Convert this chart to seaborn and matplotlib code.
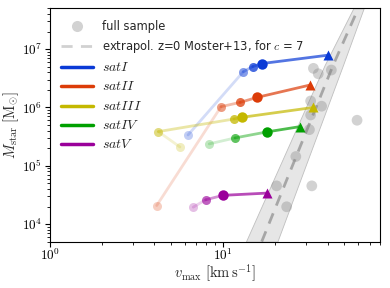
import numpy as np
import pandas as pd
import matplotlib
matplotlib.use("Agg")
import matplotlib.pyplot as plt
import matplotlib.ticker as mticker
import seaborn as sns

# ------------------------------------------
# data
# ------------------------------------------
# full sample (grey dots)
full_vmax = [33.1, 35.3, 42.0, 31.9, 36.9, 31.9, 31.4, 59.1, 26.2, 20.3, 32.4, 23.2]
full_mstar = [4.68e6, 3.78e6, 4.38e6, 1.29e6, 1.05e6, 7.43e5, 4.16e5, 6.03e5,
              1.44e5, 4.52e4, 4.52e4, 1.98e4]

# satellite tracks (earliest -> latest), last entry is the z=0 triangle
sat_names = ["satI", "satII", "satIII", "satIV", "satV"]
sat_vmax = {
    "satI": [6.26, 13.04, 14.78, 16.66, 40.4],
    "satII": [4.13, 9.70, 12.49, 15.71, 31.6],
    "satIII": [5.62, 4.22, 11.53, 12.87, 33.1],
    "satIV": [8.30, 11.68, 17.80, 27.6],
    "satV": [6.71, 7.91, 9.96, 17.94],
}
sat_mstar = {
    "satI": [3.37e5, 4.09e6, 5.02e6, 5.65e6, 7.89e6],
    "satII": [2.08e4, 1.03e6, 1.22e6, 1.49e6, 2.42e6],
    "satIII": [2.10e5, 3.85e5, 6.34e5, 6.78e5, 1.00e6],
    "satIV": [2.37e5, 3.00e5, 3.80e5, 4.68e5],
    "satV": [1.95e4, 2.61e4, 3.11e4, 3.40e4],
}
sat_labels = [r"$satI$", r"$satII$", r"$satIII$", r"$satIV$", r"$satV$"]
sat_colors = ["#0a3ad6", "#dc3c08", "#c4b800", "#00a000", "#9a009a"]

# Moster+13 extrapolation (centre line and band edges, read at a few M* levels)
band_mstar = [5.0e3, 5.3e6, 5.0e7]
band_vcen = [16.66, 43.0, 60.1]
band_vlo = [13.5, 38.4, 56.2]
band_vhi = [20.5, 49.0, 64.5]

# ------------------------------------------
# style
# ------------------------------------------
sns.set_theme(style="ticks", rc={
    "mathtext.fontset": "cm",
    "axes.edgecolor": "black",
    "xtick.color": "black",
    "ytick.color": "black",
    "axes.linewidth": 0.8,
})
plt.rcParams["font.family"] = ["DejaVu Sans"]

fig, ax = plt.subplots(figsize=(3.9, 2.88), dpi=100)
fig.subplots_adjust(left=0.128, right=0.974, top=0.971, bottom=0.161)

# band + dashed line
ax.fill_betweenx(band_mstar, band_vlo, band_vhi, color="0.9",
                 edgecolor="0.75", linewidth=0.6, zorder=1)
ax.plot(band_vcen, band_mstar, ls=(0, (4, 3)), lw=2, color="0.55", alpha=0.7,
        zorder=2)

# full sample
df_full = pd.DataFrame({"vmax": full_vmax, "mstar": full_mstar})
sns.scatterplot(data=df_full, x="vmax", y="mstar", ax=ax, color="gray",
                alpha=0.35, s=60, edgecolor="none", zorder=3, legend=False)

# satellite tracks with fading history
for name, col in zip(sat_names, sat_colors):
    v = sat_vmax[name]
    m = sat_mstar[name]
    n = len(v) - 1
    alphas = np.linspace(0.25, 1.0, n)
    for i in range(n):
        a_seg = 0.7 * alphas[i]
        ax.plot(v[i:i + 2], m[i:i + 2], color=col, alpha=a_seg, lw=2,
                solid_capstyle="round", zorder=4)
    for i in range(n):
        ax.plot(v[i], m[i], "o", color=col, alpha=alphas[i],
                ms=6.5 if i < n - 1 else 7.5, mec="none", zorder=5)
    ax.plot(v[-1], m[-1], "^", color=col, ms=7, mec="none", zorder=6)

ax.set_xscale("log")
ax.set_yscale("log")
ax.set_xlim(1, 80)
ax.set_ylim(5e3, 5e7)

fmt = mticker.FuncFormatter(lambda val, pos: r"$10^{%d}$" % int(np.round(np.log10(val))))
ax.xaxis.set_major_formatter(fmt)
ax.yaxis.set_major_formatter(fmt)
ax.xaxis.set_minor_formatter(mticker.NullFormatter())
ax.yaxis.set_minor_formatter(mticker.NullFormatter())
ax.tick_params(which="major", labelsize=9.5, length=3.5, width=0.8, pad=2)
ax.tick_params(axis="x", which="major", pad=0.5)
ax.tick_params(which="minor", length=2, width=0.6)

ax.set_xlabel(r"$v_{\rm max}\ [{\rm km\,s^{-1}}]$", fontsize=10.5, labelpad=0)
ax.set_ylabel(r"$M_{\rm star}\ [{\rm M_{\odot}}]$", fontsize=10.5, labelpad=1)

# legend
handles = [
    plt.Line2D([], [], marker="o", ls="none", color="gray", alpha=0.35, ms=8,
               mec="none"),
    plt.Line2D([], [], ls=(0, (4, 3)), lw=2, color="0.55", alpha=0.4),
]
labels = ["full sample", r"extrapol. z=0 Moster+13, for $c$ = 7"]
for lab, col in zip(sat_labels, sat_colors):
    handles.append(plt.Line2D([], [], color=col, lw=2.5))
    labels.append(lab)
leg = ax.legend(handles, labels, loc="upper left", frameon=False, fontsize=8.3,
                handlelength=2.7, labelspacing=0.45, borderaxespad=0.6)
for t in leg.get_texts()[2:]:
    t.set_fontsize(10)

fig.savefig("out.png", dpi=100)
